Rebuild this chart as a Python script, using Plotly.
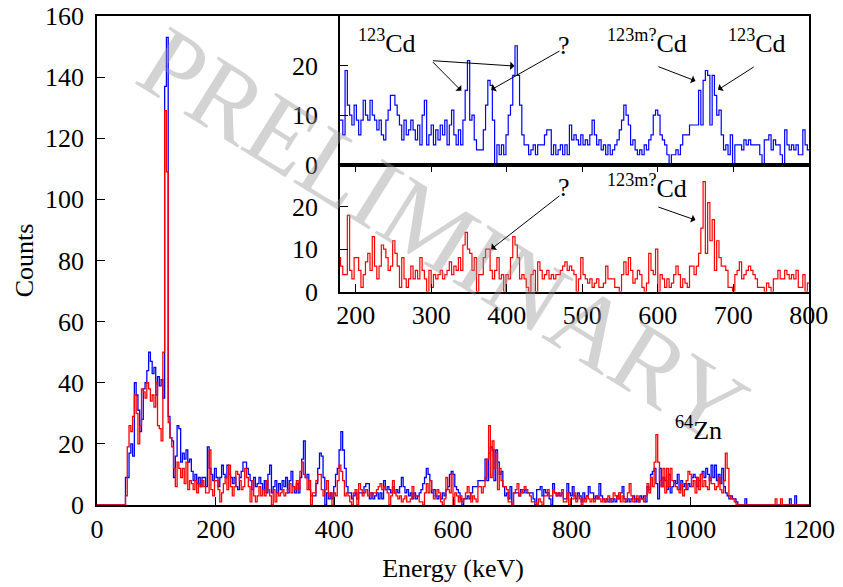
import plotly.graph_objects as go

# ---------------- data (counts per 3 keV bin, bins start at 0 keV) ----------------
BIN_KEV = 3

blue_0_180 = [0, 0, 0, 0, 0, 0, 0, 0, 0, 0, 0, 0, 0, 0, 0, 0,
              9, 9, 17, 20, 16, 40, 36, 31, 24, 28, 38, 40, 44, 50, 47, 43, 45, 36, 42, 39,
              41, 35, 137, 153, 29, 22, 21, 9, 16, 26, 25, 14, 17, 15, 18, 14, 15, 11, 8, 10,
              7, 9, 6, 9]
red_0_180 = [0, 0, 0, 0, 0, 0, 0, 0, 0, 0, 0, 0, 0, 0, 0, 0,
             3, 19, 26, 24, 29, 36, 30, 20, 26, 38, 37, 35, 40, 38, 34, 36, 32, 40, 26, 25,
             21, 50, 129, 109, 27, 22, 19, 12, 6, 14, 12, 9, 12, 7, 14, 5, 8, 7, 5, 8,
             4, 7, 6, 8]

blue_180_480 = [9, 6, 19, 12, 10, 8, 12, 9, 6, 9, 13, 10, 9, 13, 10, 9, 7, 9, 6, 5,
                9, 11, 14, 14, 12, 10, 8, 5, 9, 6, 7, 9, 7, 5, 8, 4, 10, 13, 4, 6,
                8, 4, 7, 5, 8, 6, 9, 4, 8, 11, 6, 4, 7, 4, 9, 15, 21, 9, 10, 5,
                3, 3, 3, 7, 12, 17, 16, 9, 0, 4, 2, 4, 2, 6, 10, 12, 18, 24, 18, 12,
                6, 4, 4, 2, 3, 4, 2, 4, 4, 4, 6, 7, 7, 2, 4, 2, 3, 4, 2, 4, 2]
blue_480_800 = [8, 5, 6, 5, 4, 6, 4, 5, 4, 6, 9, 6, 4, 5, 3, 4, 2, 4, 2, 3,
                4, 5, 7, 9, 12, 10, 8, 4, 5, 3, 2, 3, 2, 4, 3, 5, 6, 10, 11, 10,
                6, 5, 4, 2, 0, 2, 2, 3, 2, 4, 6, 6, 6, 8, 8, 8, 8, 15, 8, 17,
                19, 18, 8, 18, 14, 10, 11, 6, 3, 4, 2, 6, 0, 4, 4, 4, 3, 5, 4, 5,
                4, 4, 4, 4, 2, 0, 5, 5, 6, 3, 5, 4, 4, 2, 0, 7, 4, 3, 4, 3,
                4, 2, 2, 7, 4, 3]
red_180_480 = [6, 4, 4, 18, 5, 3, 8, 8, 5, 1, 4, 7, 9, 5, 13, 6, 3, 6, 11, 10,
               8, 5, 6, 12, 9, 6, 1, 8, 3, 1, 3, 6, 3, 5, 3, 8, 5, 3, 0, 5,
               1, 4, 3, 4, 5, 3, 4, 5, 7, 4, 6, 5, 8, 5, 11, 14, 10, 9, 5, 8,
               0, 4, 4, 8, 10, 10, 5, 3, 5, 8, 3, 4, 0, 4, 3, 8, 13, 11, 8, 3,
               4, 3, 1, 0, 4, 5, 0, 7, 5, 3, 4, 5, 3, 4, 3, 4, 4, 5, 6, 7, 5]
red_480_800 = [6, 5, 4, 0, 3, 8, 4, 3, 2, 3, 1, 2, 3, 1, 1, 2, 6, 3, 3, 3,
               1, 1, 0, 4, 7, 4, 8, 5, 2, 3, 5, 4, 1, 0, 2, 9, 5, 4, 10, 0,
               4, 3, 1, 3, 1, 2, 4, 6, 4, 1, 3, 2, 1, 6, 6, 4, 6, 9, 15, 26,
               9, 21, 12, 17, 5, 12, 8, 6, 6, 5, 1, 1, 0, 4, 5, 7, 3, 4, 5, 6,
               5, 4, 3, 1, 1, 1, 0, 2, 1, 0, 3, 3, 5, 3, 3, 5, 4, 3, 4, 3,
               5, 1, 1, 4, 0, 2]

blue_800_1200 = [6, 3, 2, 4, 3, 1, 4, 2, 3, 6, 4, 4, 2, 3, 2, 7, 3, 2, 1, 2,
                 1, 2, 1, 2, 1, 3, 2, 4, 6, 2, 1, 2, 1, 2, 3, 1, 2, 1, 3, 2,
                 3, 1, 6, 5, 10, 11, 12, 7, 2, 12, 6, 9, 8, 5, 10, 4, 6, 8, 7, 10,
                 5, 8, 6, 7, 5, 7, 6, 9, 10, 9, 6, 8, 10, 11, 9, 12, 10, 8, 13, 9,
                 13, 8, 10, 7, 12, 6, 4, 3, 2, 3, 2, 2, 1, 0, 0, 0, 0, 2, 0, 0,
                 0, 0, 0, 0, 0, 0, 0, 0, 0, 0, 0, 0, 0, 0, 0, 0, 0, 0, 0, 0,
                 0, 0, 2, 0, 0, 3, 0, 0, 0, 0, 0, 0, 0]
red_800_1200 = [2, 4, 1, 3, 2, 0, 2, 1, 3, 2, 1, 2, 1, 2, 3, 2, 1, 2, 1, 2,
                3, 1, 2, 4, 3, 2, 4, 1, 3, 1, 2, 4, 7, 3, 1, 2, 3, 1, 2, 2,
                1, 3, 7, 4, 9, 6, 14, 23, 14, 8, 6, 12, 4, 12, 6, 12, 8, 7, 6, 5,
                4, 7, 3, 5, 8, 11, 10, 6, 8, 4, 9, 5, 10, 6, 8, 6, 5, 9, 7, 7,
                5, 6, 9, 5, 4, 8, 17, 12, 3, 2, 2, 1, 0, 0, 0, 0, 0, 0, 0, 0,
                0, 0, 0, 0, 0, 0, 0, 0, 0, 0, 0, 0, 0, 0, 2, 0, 0, 2, 0, 0,
                0, 0, 0, 0, 0, 0, 0, 0, 0, 0, 0, 0, 0]

blue_counts = blue_0_180 + blue_180_480 + blue_480_800 + blue_800_1200
red_counts = red_0_180 + red_180_480 + red_480_800 + red_800_1200

x_ticks_main = [0, 200, 400, 600, 800, 1000, 1200]
y_ticks_main = [0, 20, 40, 60, 80, 100, 120, 140, 160]
x_ticks_inset = [200, 300, 400, 500, 600, 700, 800]
y_ticks_inset = [0, 10, 20]

BLUE = "#0000ff"
RED = "#ff0000"
FONT = "Liberation Serif"


def steps(vals):
    edges = [BIN_KEV * i for i in range(len(vals) + 1)]
    return edges, list(vals) + [vals[-1]]


bx, by = steps(blue_counts)
rx, ry = steps(red_counts)

fig = go.Figure()
line_kw = dict(mode="lines", line_shape="hv", hoverinfo="skip", showlegend=False)
fig.add_trace(go.Scatter(x=bx, y=by, line=dict(color=BLUE, width=1.3), xaxis="x", yaxis="y", **line_kw))
fig.add_trace(go.Scatter(x=rx, y=ry, line=dict(color=RED, width=1.3), xaxis="x", yaxis="y", **line_kw))
fig.add_trace(go.Scatter(x=bx, y=by, line=dict(color=BLUE, width=1.2), xaxis="x2", yaxis="y2", **line_kw))
fig.add_trace(go.Scatter(x=rx, y=ry, line=dict(color=RED, width=1.2), xaxis="x3", yaxis="y3", **line_kw))

ax_common = dict(showline=True, linecolor="black", linewidth=1.5, showgrid=False, zeroline=False,
                 ticks="inside", ticklen=8, tickwidth=1.2, tickcolor="black", automargin=False,
                 ticklabeloverflow="allow",
                 tickfont=dict(family=FONT, size=26, color="black"))

INSET_X0 = 0.3413
fig.update_layout(
    width=835, height=579,
    margin=dict(l=89, r=34, t=8, b=82),
    paper_bgcolor="white", plot_bgcolor="rgba(0,0,0,0)",
    font=dict(family=FONT, size=26, color="black"),
    xaxis=dict(domain=[0, 1], range=[0, 1200], tickvals=x_ticks_main, mirror=True, anchor="y",
               title=dict(text="Energy (keV)", font=dict(family=FONT, size=26), standoff=16),
               ticklabelstandoff=0, **ax_common),
    yaxis=dict(domain=[0, 1], range=[0, 160], tickvals=y_ticks_main, mirror=True, anchor="x",
               title=dict(text="Counts", font=dict(family=FONT, size=26), standoff=4),
               ticklabelstandoff=6, **ax_common),
    xaxis2=dict(domain=[INSET_X0, 1], range=[179.3, 800.2], tickvals=x_ticks_inset, anchor="y2",
                showticklabels=False, mirror=True,
                **{**ax_common, "ticks": ""}),
    yaxis2=dict(domain=[0.696, 1], range=[0, 30], tickvals=y_ticks_inset, anchor="x2", mirror=True,
                ticklabelstandoff=15, **ax_common),
    xaxis3=dict(domain=[INSET_X0, 1], range=[179.3, 800.2], tickvals=x_ticks_inset, anchor="y3",
                mirror="ticks", ticklabelstandoff=0, **ax_common),
    yaxis3=dict(domain=[0.4366, 0.696], range=[0, 30], tickvals=y_ticks_inset, anchor="x3", mirror=True,
                ticklabelstandoff=15, **ax_common),
)

annotations = []
# watermark
annotations.append(dict(xref="paper", yref="paper", x=0.487, y=0.552, text="PRELIMINARY",
                        showarrow=False, textangle=32,
                        font=dict(family=FONT, size=102, color="rgba(150,150,150,0.42)")))


def label(text, x, y, xr, yr, xanchor="left", yanchor="bottom"):
    annotations.append(dict(xref=xr, yref=yr, x=x, y=y, text=text, showarrow=False,
                            xanchor=xanchor, yanchor=yanchor,
                            font=dict(family=FONT, size=26, color="black")))


def arrow(x0, y0, x1, y1, xr, yr):
    annotations.append(dict(xref=xr, yref=yr, axref=xr, ayref=yr, x=x1, y=y1, ax=x0, ay=y0,
                            text="", showarrow=True, arrowhead=1, arrowsize=1.4, arrowwidth=1,
                            arrowcolor="black", standoff=0, startstandoff=0))


label("<sup>123</sup>Cd", 200.4, 21.1, "x2", "y2")
arrow(300.3, 21.0, 339.9, 14.9, "x2", "y2")
arrow(300.3, 21.0, 410.2, 19.9, "x2", "y2")
label("?", 476, 24.1, "x2", "y2", xanchor="center", yanchor="middle")
arrow(471.8, 23.1, 379.4, 15.1, "x2", "y2")
label("<sup>123m?</sup>Cd", 530, 21.1, "x2", "y2")
arrow(598.8, 19.9, 649.9, 16.9, "x2", "y2")
label("<sup>123</sup>Cd", 690, 21.1, "x2", "y2")
arrow(729.0, 19.9, 679.7, 15.1, "x2", "y2")

label("?", 476, 24.5, "x3", "y3", xanchor="center", yanchor="middle")
arrow(471.8, 22.9, 379.4, 10.0, "x3", "y3")
label("<sup>123m?</sup>Cd", 530, 20.5, "x3", "y3")
arrow(598.8, 20.1, 649.9, 16.9, "x3", "y3")

label("<sup>64</sup>Zn", 970, 19, "x", "y")

fig.update_layout(annotations=annotations)
fig.write_html("out.html")
